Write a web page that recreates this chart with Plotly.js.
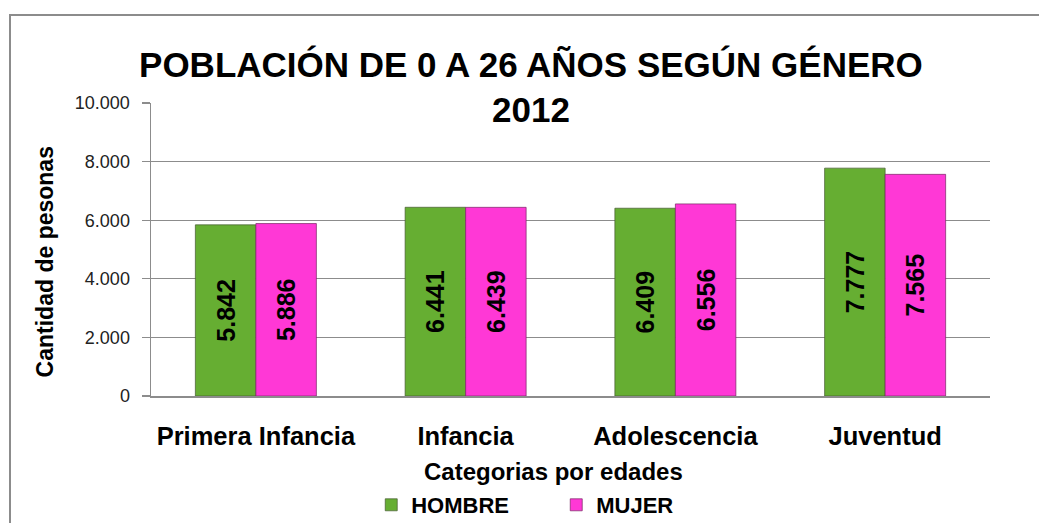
<!DOCTYPE html>
<html>
<head>
<meta charset="utf-8">
<script src="https://cdn.plot.ly/plotly-3.0.1.min.js"></script>
<style>
  html, body { margin: 0; padding: 0; background: #fff; }
  #wrap { position: relative; width: 1039px; height: 523px; overflow: hidden; }
  #chart { width: 1039px; height: 523px; }
  #frame { position: absolute; left: 9px; top: 14px; width: 1100px; height: 600px;
           border-left: 2px solid #8c8c8c; border-top: 2px solid #8c8c8c; pointer-events: none; }
</style>
</head>
<body>
<div id="wrap">
  <div id="chart"></div>
  <div id="frame"></div>
</div>
<script>
const categories = ["Primera Infancia", "Infancia", "Adolescencia", "Juventud"];
const hombre = [5842, 6441, 6409, 7777];
const mujer = [5886, 6439, 6556, 7565];
const seriesNames = ["HOMBRE", "MUJER"];
const titleText = "POBLACIÓN DE 0 A 26 AÑOS SEGÚN GÉNERO<br>2012";
const yTitle = "Cantidad de pesonas";
const xTitle = "Categorias por edades";

const SANS = "'Liberation Sans', Arial, sans-serif";

const labelFont = { family: SANS, size: 25, color: "#000", weight: "bold" };

const traces = [
  {
    type: "bar", name: seriesNames[0], x: categories, y: hombre,
    marker: { color: "#66AE32", line: { color: "rgba(70,90,50,0.7)", width: 1 } },
    texttemplate: "%{y:,}", textposition: "inside", insidetextanchor: "middle",
    textangle: -90, textfont: labelFont, hoverinfo: "x+y+name"
  },
  {
    type: "bar", name: seriesNames[1], x: categories, y: mujer,
    marker: { color: "#FF38D6", line: { color: "rgba(120,40,100,0.7)", width: 1 } },
    texttemplate: "%{y:,}", textposition: "inside", insidetextanchor: "middle",
    textangle: -90, textfont: labelFont, hoverinfo: "x+y+name"
  }
];

const layout = {
  width: 1039, height: 523,
  margin: { l: 151, r: 49, t: 103, b: 127, pad: 0, autoexpand: false },
  paper_bgcolor: "#fff", plot_bgcolor: "#fff",
  separators: ",.",
  barmode: "group", bargap: 0.423, bargroupgap: 0,
  showlegend: true,
  title: {
    text: titleText,
    font: { family: SANS, size: 35, color: "#000", weight: "bold" },
    xref: "container", x: 0.511, xanchor: "center",
    yref: "container", y: 0.853, yanchor: "middle"
  },
  xaxis: {
    type: "category", showgrid: false, ticks: "", showline: true,
    linecolor: "#8c8c8c", linewidth: 1.5,
    tickfont: { family: SANS, size: 25.5, color: "#000", weight: "bold" },
    ticklabelstandoff: 17
  },
  yaxis: {
    range: [0, 10000], dtick: 2000, tickformat: ",d",
    showgrid: true, gridcolor: "#8c8c8c", gridwidth: 1.2,
    showline: true, linecolor: "#8c8c8c", linewidth: 1.5,
    ticks: "outside", ticklen: 8, tickcolor: "#8c8c8c", tickwidth: 1.2,
    tickfont: { family: SANS, size: 18, color: "#222" },
    zeroline: false, ticklabelstandoff: 8
  },
  legend: {
    orientation: "h", xref: "paper", x: 0.483, xanchor: "center",
    yref: "paper", y: -0.372, yanchor: "middle",
    font: { family: SANS, size: 22, color: "#000", weight: "bold" },
    itemwidth: 30, entrywidth: 140, traceorder: "normal", bgcolor: "rgba(0,0,0,0)"
  },
  annotations: [
    {
      text: yTitle, textangle: -90, showarrow: false,
      xref: "paper", yref: "paper", x: -0.126, y: 0.457,
      xanchor: "center", yanchor: "middle",
      font: { family: SANS, size: 23, color: "#000", weight: "bold" }
    },
    {
      text: xTitle, showarrow: false,
      xref: "paper", yref: "paper", x: 0.480, y: -0.259,
      xanchor: "center", yanchor: "middle",
      font: { family: SANS, size: 24, color: "#000", weight: "bold" }
    }
  ]
};

Plotly.newPlot("chart", traces, layout, { displayModeBar: false, staticPlot: true });
</script>
</body>
</html>
